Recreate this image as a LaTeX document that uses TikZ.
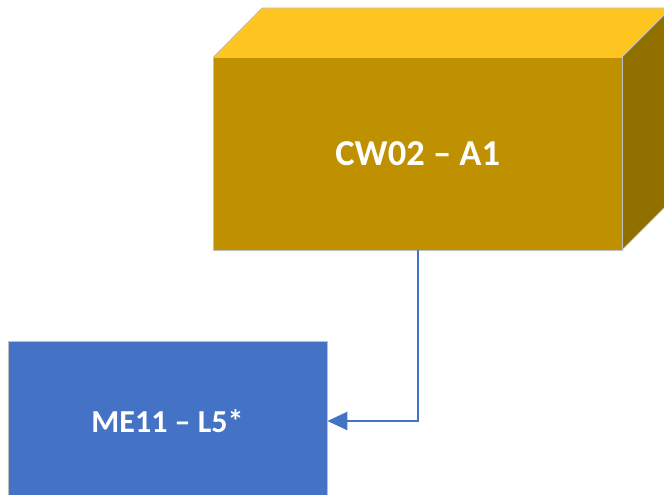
\documentclass[tikz,border=0pt]{standalone}
\usepackage{fontspec}
\setmainfont{Carlito}
\usetikzlibrary{arrows.meta}
\definecolor{cwfront}{HTML}{BF9000}
\definecolor{cwtop}{HTML}{FFC622}
\definecolor{cwside}{HTML}{927000}
\definecolor{meblue}{HTML}{4472C4}
\definecolor{edgegray}{HTML}{C0C0C0}
\tikzset{
  face/.style={draw=edgegray, line width=0.8pt},
  boxlabel/.style={text=white, font=\bfseries\fontsize{32}{36}\selectfont},
  biglabel/.style={text=white, font=\bfseries\fontsize{36.5}{40}\selectfont},
  link/.style={draw=meblue, line width=2.5pt, -{Triangle[length=20pt,width=18pt]}}
}
\begin{document}
\begin{tikzpicture}[x=1pt,y=-1pt]
\useasboundingbox (0,0) rectangle (664,495);
\clip (0,0) rectangle (664,495);
% 3D box top and side faces
\fill[cwtop] (213.5,57) -- (262,8) -- (671,8) -- (622,57) -- cycle;
\fill[cwside] (622,57) -- (671,8) -- (671,201) -- (622,250) -- cycle;
\draw[edgegray, line width=0.8pt, line join=round] (213.5,57) -- (262,8) -- (671,8) (622,57) -- (671,8) (622,250) -- (671,201);
% front face
\node[face, fill=cwfront, minimum width=408.5pt, minimum height=193pt, inner sep=0pt, biglabel] (cw) at (417.75,153.5) {CW02 – A1};
% blue box
\node[face, fill=meblue, minimum width=319pt, minimum height=160pt, inner sep=0pt, boxlabel] (me) at (167.5,421) {ME11 – L5*};
\draw[link] (cw.south) |- (me.east);
\end{tikzpicture}
\end{document}
